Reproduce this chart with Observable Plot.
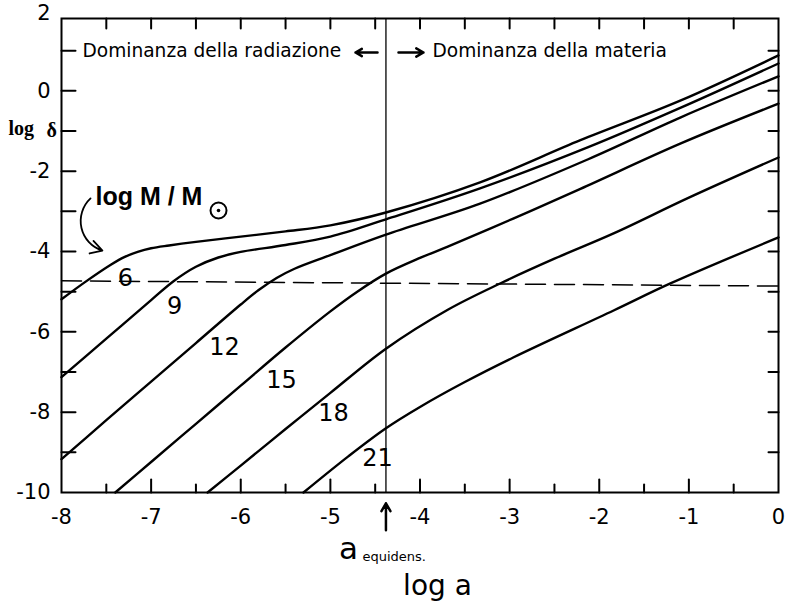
<!DOCTYPE html>
<html><head><meta charset="utf-8">
<script src="https://cdn.jsdelivr.net/npm/d3@7"></script>
<script src="https://cdn.jsdelivr.net/npm/@observablehq/plot@0.6"></script>
<style>body{margin:0;background:#fff} #chart svg{display:block}</style>
</head><body><div id="chart"></div>
<script>
// ---- data (log a, log delta) ----
const masses = ["6", "9", "12", "15", "18", "21"];
const curve6  = [[-8,-5.19],[-7.73,-4.75],[-7.45,-4.33],[-7.3,-4.14],[-7.15,-4.01],[-7.0,-3.92],[-6.8,-3.85],[-6.5,-3.76],[-6,-3.63],[-5.5,-3.5],[-5,-3.35],[-4.38,-3.03],[-3.33,-2.28],[-2.21,-1.23],[-1.09,-0.24],[0,0.88]];
const curve9  = [[-8,-7.13],[-7.5,-6.17],[-7,-5.21],[-6.75,-4.74],[-6.5,-4.38],[-6.25,-4.15],[-6,-4.01],[-5.5,-3.84],[-5,-3.63],[-4.38,-3.2],[-3.33,-2.43],[-2.13,-1.41],[-1.09,-0.42],[0,0.68]];
const curve12 = [[-8,-9.17],[-7.5,-8.2],[-7,-7.24],[-6.5,-6.28],[-6,-5.32],[-5.8,-4.96],[-5.6,-4.66],[-5.4,-4.43],[-5,-4.09],[-4.38,-3.58],[-3.33,-2.81],[-2.13,-1.71],[-1.09,-0.66],[0,0.36]];
const curve15 = [[-7.4,-10],[-7,-9.24],[-6.5,-8.29],[-6,-7.34],[-5.5,-6.39],[-5,-5.49],[-4.7,-5.0],[-4.38,-4.55],[-4,-4.16],[-3.69,-3.88],[-2.96,-3.18],[-2.21,-2.44],[-1.09,-1.31],[0,-0.32]];
const curve18 = [[-6.37,-10],[-6,-9.33],[-5.5,-8.42],[-5,-7.52],[-4.38,-6.42],[-3.69,-5.45],[-3.1,-4.79],[-2.5,-4.18],[-1.84,-3.55],[-1,-2.66],[0,-1.66]];
const curve21 = [[-5.3,-10],[-4.8,-9.1],[-4.38,-8.4],[-4,-7.87],[-3.5,-7.25],[-2.96,-6.64],[-1.84,-5.47],[-1.2,-4.79],[0,-3.65]];
const curves = [curve6, curve9, curve12, curve15, curve18, curve21];
const dashedLine = [[-8,-4.73],[0,-4.86]];
const aEquidens = -4.38;

// curve labels (position of each mass label)
const labelX = [-7.286, -6.739, -6.181, -5.545, -4.965, -4.474];
const labelY = [-4.67, -5.37, -6.39, -7.21, -8.03, -9.15];

// ticks
const xDomain = [-8, 0];
const yDomain = [-10, 1.8];
const xTickLabels = [-8, -7, -6, -5, -4, -3, -2, -1, 0];
const xMajorTicks = [-7, -6, -5, -4, -3, -2, -1];
const xMinorTicks = [-7.5, -6.5, -5.5, -4.5, -3.5, -2.5, -1.5, -0.5];
const yTickLabels = [0, -2, -4, -6, -8, -10];
const yTopLabel = [2];
const yTicks = [-9, -8, -7, -6, -5, -4, -3, -2, -1, 0, 1];

// annotation texts
const topTexts = [
  {x: -7.766, y: 1.0, text: "Dominanza della radiazione"},
  {x: -3.86, y: 1.0, text: "Dominanza della materia"}
];
const topArrows = [
  {x1: -4.474, x2: -4.72, y: 0.953},
  {x1: -4.24, x2: -3.961, y: 0.953}
];

// ---- build tables ----
const rows = curves.flatMap((c, i) => c.map(([x, y]) => ({mass: masses[i], x, y})));
const labels = masses.map((m, i) => ({text: m, x: labelX[i], y: labelY[i]}));
const tickShape = {draw(ctx, l) { ctx.moveTo(0, 0); ctx.lineTo(0, -l); }};
const SANS = "DejaVu Sans";

const chart = Plot.plot({
  width: 793, height: 605,
  marginLeft: 61, marginRight: 15, marginTop: 18, marginBottom: 113,
  x: {domain: xDomain, axis: null},
  y: {domain: yDomain, axis: null},
  style: {fontFamily: SANS, color: "black", background: "white"},
  marks: [
    // curves
    Plot.line(rows, {x: "x", y: "y", z: "mass", curve: "catmull-rom", stroke: "black", strokeWidth: 2.4}),
    Plot.line(dashedLine, {x: d => d[0], y: d => d[1], stroke: "black", strokeWidth: 1.5, strokeDasharray: "20,9"}),
    Plot.ruleX([aEquidens], {y1: yDomain[0], y2: yDomain[1], stroke: "black", strokeWidth: 1.3}),
    // frame and ticks
    Plot.frame({stroke: "black", strokeWidth: 2}),
    Plot.vector(yTicks, {x: xDomain[0], y: d => d, length: 14, rotate: 90, anchor: "start", shape: tickShape, stroke: "black", strokeWidth: 2}),
    Plot.vector(yTicks, {x: xDomain[1], y: d => d, length: 10, rotate: -90, anchor: "start", shape: tickShape, stroke: "black", strokeWidth: 2}),
    Plot.vector(xMajorTicks, {x: d => d, y: yDomain[0], length: 13, rotate: 0, anchor: "start", shape: tickShape, stroke: "black", strokeWidth: 2}),
    Plot.vector(xMinorTicks, {x: d => d, y: yDomain[0], length: 8, rotate: 0, anchor: "start", shape: tickShape, stroke: "black", strokeWidth: 2}),
    Plot.vector(xMajorTicks.concat(xMinorTicks), {x: d => d, y: yDomain[1], length: 10, rotate: 180, anchor: "start", shape: tickShape, stroke: "black", strokeWidth: 2}),
    // tick labels
    Plot.axisY(yTickLabels, {tickSize: 0, tickPadding: 11, tickFormat: d => String(d), fontSize: 21, label: null}),
    Plot.axisY(yTopLabel, {tickSize: 0, tickPadding: 11, tickFormat: d => String(d), fontSize: 21, dy: 3, label: null}),
    Plot.axisX(xTickLabels, {tickSize: 0, tickPadding: 17, tickFormat: d => String(d), fontSize: 21, label: null}),
    // curve labels
    Plot.text(labels, {x: "x", y: "y", text: "text", fontSize: 24, fill: "black"}),
    // top annotations
    Plot.text(topTexts, {x: "x", y: "y", text: "text", textAnchor: "start", fontSize: 18.6, fill: "black"}),
    Plot.arrow(topArrows, {x1: "x1", x2: "x2", y1: "y", y2: "y", stroke: "black", strokeWidth: 2.5, headLength: 8}),
    // log M/M_sun label with curved arrow
    Plot.text([{x: -7.621, y: -2.656, text: "log M / M"}], {x: "x", y: "y", text: "text", textAnchor: "start", fontSize: 25, fontWeight: "bold", fontFamily: "Liberation Sans", fill: "black"}),
    Plot.dot([{x: -6.248, y: -2.98}], {x: "x", y: "y", r: 8, stroke: "black", strokeWidth: 2, fill: "none"}),
    Plot.dot([{x: -6.248, y: -2.98}], {x: "x", y: "y", r: 1.8, fill: "black"}),
    Plot.arrow([{x1: -7.676, y1: -2.68, x2: -7.543, y2: -3.976}], {x1: "x1", y1: "y1", x2: "x2", y2: "y2", bend: -60, stroke: "black", strokeWidth: 1.8, headLength: 11}),
    // y-axis title
    Plot.text([{x: -8.591, y: -0.95, text: "log"}], {x: "x", y: "y", text: "text", textAnchor: "start", fontSize: 20, fontWeight: "bold", fontFamily: "Liberation Serif", fill: "black"}),
    Plot.text([{x: -8.167, y: -1.0, text: "δ"}], {x: "x", y: "y", text: "text", textAnchor: "start", fontSize: 20, fontWeight: "bold", fontFamily: "Liberation Serif", fill: "black"}),
    // bottom annotations
    Plot.arrow([{x: aEquidens, y1: -10.94, y2: -10.27}], {x: "x", y1: "y1", y2: "y2", stroke: "black", strokeWidth: 2.5, headLength: 9}),
    Plot.text([{x: -4.798, y: -11.42, text: "a"}], {x: "x", y: "y", text: "text", fontSize: 31, fill: "black"}),
    Plot.text([{x: -4.642, y: -11.59, text: "equidens."}], {x: "x", y: "y", text: "text", textAnchor: "start", fontSize: 13, fill: "black"}),
    Plot.text([{x: -3.805, y: -12.32, text: "log a"}], {x: "x", y: "y", text: "text", fontSize: 28, fill: "black"})
  ]
});
document.getElementById("chart").appendChild(chart);
</script>
</body></html>
